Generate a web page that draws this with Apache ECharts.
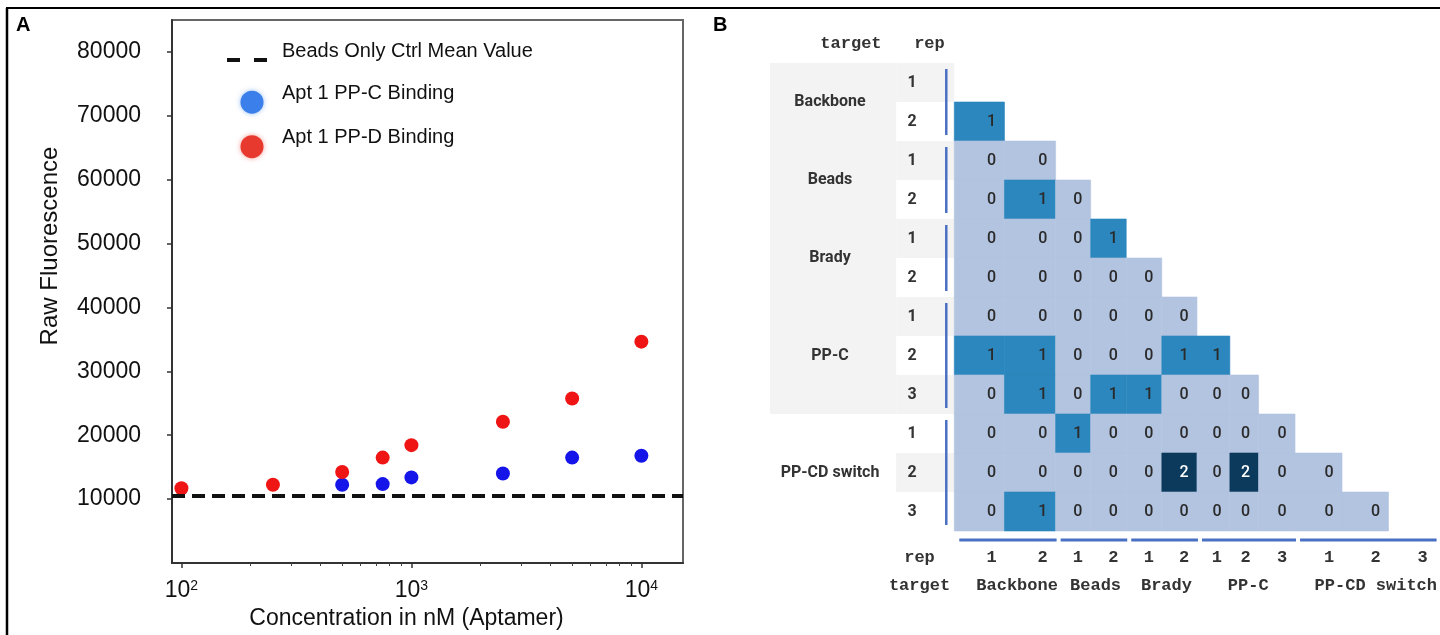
<!DOCTYPE html>
<html>
<head>
<meta charset="utf-8">
<script src="https://cdn.jsdelivr.net/npm/echarts@6/dist/echarts.min.js"></script>
<style>
  html, body { margin: 0; padding: 0; background: #fff; }
  #main { width: 1440px; height: 635px; }
</style>
</head>
<body>
<div id="main"></div>
<script>
// ---- panel A: aptamer binding ----
const concentrations = [100, 250, 500, 750, 1000, 2500, 5000, 10000];
const ppdBinding = [11700, 12250, 14250, 16500, 18450, 22100, 25750, 34650];
const ppcConcentrations = [500, 750, 1000, 2500, 5000, 10000];
const ppcBinding = [12250, 12350, 13400, 14000, 16500, 16800];
const beadsOnlyMean = 10500;

// minor ticks of the log axis: 2..9 x each decade
const minorTickValues = [];
[100, 1000].forEach(d => { for (let k = 2; k <= 9; k++) minorTickValues.push(k * d); });

// ---- panel B: pairwise comparison counts (lower triangle) ----
const rowTargets = ['Backbone', 'Backbone', 'Beads', 'Beads', 'Brady', 'Brady',
  'PP-C', 'PP-C', 'PP-C', 'PP-CD switch', 'PP-CD switch', 'PP-CD switch'];
const rowReps = [1, 2, 1, 2, 1, 2, 1, 2, 3, 1, 2, 3];
const pairCounts = [
  [],
  [1],
  [0, 0],
  [0, 1, 0],
  [0, 0, 0, 1],
  [0, 0, 0, 0, 0],
  [0, 0, 0, 0, 0, 0],
  [1, 1, 0, 0, 0, 1, 1],
  [0, 1, 0, 1, 1, 0, 0, 0],
  [0, 0, 1, 0, 0, 0, 0, 0, 0],
  [0, 0, 0, 0, 0, 2, 0, 2, 0, 0],
  [0, 1, 0, 0, 0, 0, 0, 0, 0, 0, 0]
];
const shadedTargets = ['Backbone', 'Beads', 'Brady', 'PP-C'];

// table layout (px-like units on the panel B value axis)
const colWidths = [50.5, 51.5, 35.3, 35.8, 35.8, 35.4, 33.1, 28.9, 36.7, 47.3, 46.8, 47.4];
const REP_COL = 58.5;
const TARGET_COL = 127;
const TEXT_INSET = 13;

const colEdges = [0];
colWidths.forEach(w => colEdges.push(colEdges[colEdges.length - 1] + w));
const colText = colWidths.map((w, i) => colEdges[i + 1] - TEXT_INSET);

const groups = [];
rowTargets.forEach((t, i) => {
  const g = groups[groups.length - 1];
  if (g && g.name === t) g.end = i + 1;
  else groups.push({ name: t, start: i, end: i + 1 });
});
const groupCenterX = groups.map(g => {
  const xs = colText.slice(g.start, g.end);
  return xs.reduce((a, b) => a + b, 0) / xs.length;
});

const cellData = [];
pairCounts.forEach((row, r) => row.forEach((v, c) => cellData.push([c, r, v])));

const cellColors = { 0: '#b3c4e0', 1: '#2b87bd', 2: '#0c3a5c' };
const lineBlue = '#4a70c4';
const xMinB = -(TARGET_COL + REP_COL);
const xMaxB = colEdges[colEdges.length - 1];

const headerTicks = [-104, -25];
const headerText = ['target', 'rep'];
const repTicks = [-35].concat(colText);
const repText = ['rep'].concat(rowReps.map(String));
const targetTicks = [-35].concat(groupCenterX);
const targetText = ['target'].concat(groups.map(g => g.name));

const mono = { fontFamily: 'Liberation Mono', fontWeight: 'bold', fontSize: 17, color: '#333' };
const hiddenAxis = {
  z: 10,
  axisLine: { show: false, onZero: false },
  axisTick: { show: false },
  splitLine: { show: false }
};

function renderBand(params, api) {
  const row = api.value(0);
  const top = api.coord([0, row])[1];
  const bottom = api.coord([0, row + 1])[1];
  const xT = api.coord([xMinB, 0])[0];
  const xR = api.coord([-REP_COL, 0])[0];
  const xE = api.coord([0, 0])[0];
  const children = [];
  if (shadedTargets.indexOf(rowTargets[row]) >= 0) {
    children.push({ type: 'rect', shape: { x: xT, y: top, width: xR - xT, height: bottom - top },
      style: { fill: '#f3f3f3' } });
  }
  if (row % 2 === 0) {
    children.push({ type: 'rect', shape: { x: xR, y: top, width: xE - xR, height: bottom - top },
      style: { fill: '#f3f3f3' } });
  }
  return { type: 'group', children: children };
}

function renderCell(params, api) {
  const col = api.value(0), row = api.value(1), v = api.value(2);
  const tl = api.coord([colEdges[col], row]);
  const br = api.coord([colEdges[col + 1], row + 1]);
  const tp = api.coord([colText[col], row + 0.5]);
  return {
    type: 'group',
    children: [
      { type: 'rect', shape: { x: tl[0], y: tl[1], width: br[0] - tl[0], height: br[1] - tl[1] },
        style: { fill: cellColors[v], stroke: cellColors[v], lineWidth: 0.6 } },
      { type: 'text', x: tp[0], y: tp[1],
        style: { text: String(v), fill: v === 2 ? '#fff' : '#2a2a2a', fontSize: 16,
          fontFamily: 'Roboto', fontWeight: 500, align: 'center', verticalAlign: 'middle' } }
    ]
  };
}

function renderGroupLine(params, api) {
  const start = api.value(0), end = api.value(1);
  const x = api.coord([0, 0])[0] - 8;
  const y0 = api.coord([0, start])[1] + 6;
  const y1 = api.coord([0, end])[1] - 6;
  const yb = api.coord([0, rowTargets.length])[1] + 9;
  const xa = api.coord([colEdges[start], 0])[0] + 5;
  const xb = api.coord([colEdges[end], 0])[0] + 1;
  return {
    type: 'group',
    children: [
      { type: 'line', shape: { x1: x, y1: y0, x2: x, y2: y1 }, style: { stroke: lineBlue, lineWidth: 2.5 } },
      { type: 'line', shape: { x1: xa, y1: yb, x2: xb, y2: yb }, style: { stroke: lineBlue, lineWidth: 3 } }
    ]
  };
}

const sans = 'Liberation Sans';

const option = {
  animation: false,
  backgroundColor: '#fff',
  title: [
    { text: 'A', left: 16, top: 15, padding: 0,
      textStyle: { fontSize: 20, fontWeight: 'bold', fontFamily: sans, color: '#000' } },
    { text: 'B', left: 713, top: 15, padding: 0,
      textStyle: { fontSize: 20, fontWeight: 'bold', fontFamily: sans, color: '#000' } }
  ],
  graphic: [
    { type: 'line', shape: { x1: 6, y1: 8, x2: 1440, y2: 8 }, style: { stroke: '#000', lineWidth: 2 } },
    { type: 'line', shape: { x1: 7, y1: 8, x2: 7, y2: 635 }, style: { stroke: '#000', lineWidth: 2.5 } }
  ],
  legend: {
    orient: 'vertical',
    left: 220,
    top: 36,
    itemWidth: 50,
    itemHeight: 23,
    itemGap: 14,
    selectedMode: false,
    formatter: '{t|{name}}',
    textStyle: {
      fontSize: 20, fontFamily: sans, color: '#111',
      rich: { t: { fontSize: 20, fontFamily: sans, color: '#111', padding: [0, 0, 18, 0] } }
    },
    data: [
      { name: 'Beads Only Ctrl Mean Value', itemStyle: { opacity: 0 },
        lineStyle: { color: '#111', width: 4, type: [13, 14] } },
      { name: 'Apt 1 PP-C Binding', icon: 'circle',
        itemStyle: { color: '#3b80ea', shadowBlur: 5, shadowColor: 'rgba(59,128,234,0.5)' } },
      { name: 'Apt 1 PP-D Binding', icon: 'circle',
        itemStyle: { color: '#e8392f', shadowBlur: 5, shadowColor: 'rgba(232,57,47,0.5)' } }
    ]
  },
  grid: [
    { left: 172, right: 757, top: 20, bottom: 71, show: true, borderColor: '#666', borderWidth: 2 },
    { left: 770, top: 63, width: 670, height: 468 }
  ],
  xAxis: [
    {
      gridIndex: 0,
      type: 'log',
      logBase: 10,
      min: 91,
      max: 15170,
      name: 'Concentration in nM (Aptamer)',
      nameLocation: 'middle',
      nameGap: 44,
      nameTextStyle: { fontSize: 23, fontFamily: sans, color: '#111', padding: [0, 42, 0, 0] },
      axisLine: { onZero: false, lineStyle: { color: '#333', width: 2 } },
      axisTick: { length: 5, lineStyle: { color: '#333', width: 1.5 } },
      splitLine: { show: false },
      axisLabel: {
        margin: 16,
        showMinLabel: false,
        showMaxLabel: false,
        formatter: function (v) {
          const e = Math.round(Math.log10(v));
          return Math.abs(Math.log10(v) - e) < 1e-6 ? '{b|10}{s|' + e + '}' : '';
        },
        rich: {
          b: { fontSize: 23, fontFamily: sans, color: '#111' },
          s: { fontSize: 14, fontFamily: sans, color: '#111', verticalAlign: 'top' }
        }
      }
    },
    Object.assign({ gridIndex: 1, type: 'value', min: xMinB, max: xMaxB, position: 'top',
      axisLabel: Object.assign({ customValues: headerTicks, margin: 11,
        formatter: v => headerText[headerTicks.indexOf(v)] }, mono) }, hiddenAxis),
    Object.assign({ gridIndex: 1, type: 'value', min: xMinB, max: xMaxB, position: 'bottom',
      axisLabel: Object.assign({ customValues: repTicks, margin: 18,
        formatter: v => repText[repTicks.indexOf(v)] }, mono) }, hiddenAxis),
    Object.assign({ gridIndex: 1, type: 'value', min: xMinB, max: xMaxB, position: 'bottom', offset: 28,
      axisLabel: Object.assign({ customValues: targetTicks, margin: 18,
        formatter: v => targetText[targetTicks.indexOf(v)] }, mono) }, hiddenAxis),
    {
      // minor ticks of the concentration axis
      gridIndex: 0,
      type: 'log',
      logBase: 10,
      min: 91,
      max: 15170,
      position: 'bottom',
      axisLine: { show: false, onZero: false },
      axisLabel: { show: false },
      splitLine: { show: false },
      axisTick: { show: true, length: 3, customValues: minorTickValues, lineStyle: { color: '#444', width: 1 } }
    }
  ],
  yAxis: [
    {
      gridIndex: 0,
      type: 'value',
      min: 0,
      max: 85000,
      interval: 10000,
      name: 'Raw Fluorescence',
      nameLocation: 'middle',
      nameGap: 110,
      nameTextStyle: { fontSize: 24, fontFamily: sans, color: '#111', padding: [0, 0, 0, 91] },
      axisLine: { show: true, onZero: false, lineStyle: { color: '#333', width: 2 } },
      axisTick: { show: true, length: 5, lineStyle: { color: '#333', width: 1.5 } },
      splitLine: { show: false },
      axisLabel: { fontSize: 23, fontFamily: sans, color: '#111', margin: 31,
        showMinLabel: false, showMaxLabel: false, padding: [0, 0, 8, 0],
        formatter: v => String(v) }
    },
    Object.assign({ gridIndex: 1, type: 'value', min: 0, max: 12, inverse: true, position: 'left',
      axisLabel: { customValues: rowReps.map((r, i) => i + 0.5), inside: true, align: 'center', margin: 142,
        formatter: v => String(rowReps[Math.floor(v)]),
        fontFamily: 'Roboto', fontWeight: 'bold', fontSize: 16, color: '#333' } }, hiddenAxis),
    Object.assign({ gridIndex: 1, type: 'value', min: 0, max: 12, inverse: true, position: 'left',
      axisLabel: { customValues: groups.map(g => (g.start + g.end) / 2), inside: true, align: 'center', margin: 60,
        formatter: v => groups.find(g => (g.start + g.end) / 2 === v).name,
        fontFamily: 'Roboto', fontWeight: 'bold', fontSize: 16, color: '#333' } }, hiddenAxis)
  ],
  series: [
    {
      name: 'Beads Only Ctrl Mean Value',
      type: 'line',
      xAxisIndex: 0,
      yAxisIndex: 0,
      data: [],
      symbol: 'none',
      lineStyle: { color: '#111', width: 4, type: [13, 14] },
      itemStyle: { color: '#111' },
      markLine: {
        silent: true,
        symbol: ['none', 'none'],
        label: { show: false },
        lineStyle: { color: '#111', width: 4, type: [13, 7] },
        data: [{ yAxis: beadsOnlyMean }]
      }
    },
    {
      name: 'Apt 1 PP-C Binding',
      type: 'scatter',
      xAxisIndex: 0,
      yAxisIndex: 0,
      symbolSize: 14,
      itemStyle: { color: '#1515ea', opacity: 1 },
      data: ppcConcentrations.map((c, i) => [c, ppcBinding[i]])
    },
    {
      name: 'Apt 1 PP-D Binding',
      type: 'scatter',
      xAxisIndex: 0,
      yAxisIndex: 0,
      symbolSize: 14,
      itemStyle: { color: '#f01515', opacity: 1 },
      data: concentrations.map((c, i) => [c, ppdBinding[i]])
    },
    {
      type: 'custom',
      xAxisIndex: 2,
      yAxisIndex: 1,
      silent: true,
      renderItem: renderBand,
      data: rowTargets.map((t, i) => [i, i]),
      z: 1
    },
    {
      type: 'custom',
      xAxisIndex: 2,
      yAxisIndex: 1,
      silent: true,
      renderItem: renderCell,
      data: cellData,
      z: 2
    },
    {
      type: 'custom',
      xAxisIndex: 2,
      yAxisIndex: 1,
      silent: true,
      renderItem: renderGroupLine,
      data: groups.map(g => [g.start, g.end]),
      z: 3
    }
  ]
};

const chart = echarts.init(document.getElementById('main'));
chart.setOption(option);
</script>
</body>
</html>
